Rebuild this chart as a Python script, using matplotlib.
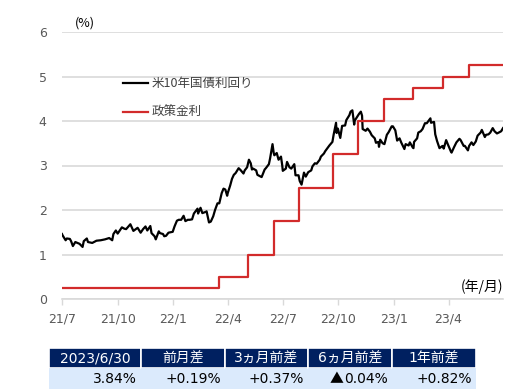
import matplotlib
matplotlib.use("Agg")
import matplotlib.pyplot as plt
from matplotlib.patches import Rectangle
import pandas as pd

plt.rcParams['font.family'] = ['Noto Sans CJK JP', 'DejaVu Sans']

# US 10-year treasury yield (%)
yield_dates = [
    "2021-07-01", "2021-07-02", "2021-07-07", "2021-07-09", "2021-07-14", "2021-07-16", "2021-07-19",
    "2021-07-23", "2021-07-30", "2021-08-04", "2021-08-06", "2021-08-11", "2021-08-13", "2021-08-20",
    "2021-08-27", "2021-09-03", "2021-09-10", "2021-09-17", "2021-09-22", "2021-09-24", "2021-09-28",
    "2021-10-01", "2021-10-08", "2021-10-12", "2021-10-15", "2021-10-20", "2021-10-22", "2021-10-27",
    "2021-10-29", "2021-11-03", "2021-11-08", "2021-11-12", "2021-11-16", "2021-11-19", "2021-11-24",
    "2021-11-26", "2021-12-01", "2021-12-03", "2021-12-08", "2021-12-10", "2021-12-15", "2021-12-17",
    "2021-12-20", "2021-12-24", "2021-12-31",
    "2022-01-03", "2022-01-07", "2022-01-10", "2022-01-14", "2022-01-18", "2022-01-21", "2022-01-25",
    "2022-01-28", "2022-02-01", "2022-02-04", "2022-02-10", "2022-02-11", "2022-02-15", "2022-02-18",
    "2022-02-24", "2022-02-25", "2022-03-01", "2022-03-04", "2022-03-08", "2022-03-11", "2022-03-15",
    "2022-03-18", "2022-03-22", "2022-03-25", "2022-03-28", "2022-03-31", "2022-04-01", "2022-04-05",
    "2022-04-08", "2022-04-11", "2022-04-14", "2022-04-19", "2022-04-22", "2022-04-27", "2022-04-29",
    "2022-05-03", "2022-05-06", "2022-05-09", "2022-05-11", "2022-05-13", "2022-05-18", "2022-05-20",
    "2022-05-24", "2022-05-27", "2022-06-01", "2022-06-03", "2022-06-08", "2022-06-10", "2022-06-14",
    "2022-06-16", "2022-06-17", "2022-06-21", "2022-06-24", "2022-06-28", "2022-06-30", "2022-07-01",
    "2022-07-06", "2022-07-08", "2022-07-12", "2022-07-15", "2022-07-20", "2022-07-22", "2022-07-27",
    "2022-07-29", "2022-08-01", "2022-08-05", "2022-08-08", "2022-08-12", "2022-08-17", "2022-08-19",
    "2022-08-23", "2022-08-26", "2022-08-31", "2022-09-02", "2022-09-07", "2022-09-09", "2022-09-14",
    "2022-09-16", "2022-09-21", "2022-09-23", "2022-09-27", "2022-09-28", "2022-09-30", "2022-10-04",
    "2022-10-07", "2022-10-12", "2022-10-14", "2022-10-19", "2022-10-21", "2022-10-24", "2022-10-27",
    "2022-10-28", "2022-11-03", "2022-11-04", "2022-11-07", "2022-11-09", "2022-11-10", "2022-11-15",
    "2022-11-18", "2022-11-22", "2022-11-25", "2022-11-30", "2022-12-02", "2022-12-06", "2022-12-07",
    "2022-12-09", "2022-12-13", "2022-12-16", "2022-12-20", "2022-12-23", "2022-12-28", "2022-12-30",
    "2023-01-03", "2023-01-06", "2023-01-10", "2023-01-13", "2023-01-18", "2023-01-20", "2023-01-25",
    "2023-01-27", "2023-02-01", "2023-02-02", "2023-02-03", "2023-02-08", "2023-02-10", "2023-02-14",
    "2023-02-17", "2023-02-21", "2023-02-24", "2023-03-02", "2023-03-03", "2023-03-08", "2023-03-10",
    "2023-03-13", "2023-03-17", "2023-03-22", "2023-03-24", "2023-03-28", "2023-03-31", "2023-04-05",
    "2023-04-06", "2023-04-10", "2023-04-14", "2023-04-19", "2023-04-21", "2023-04-26", "2023-04-28",
    "2023-05-03", "2023-05-05", "2023-05-09", "2023-05-12", "2023-05-16", "2023-05-19", "2023-05-24",
    "2023-05-26", "2023-05-31", "2023-06-02", "2023-06-06", "2023-06-09", "2023-06-13", "2023-06-16",
    "2023-06-20", "2023-06-23", "2023-06-27", "2023-06-30",
]
yield_values = [
    1.46, 1.43, 1.32, 1.36, 1.35, 1.30, 1.19,
    1.28, 1.24, 1.17, 1.30, 1.36, 1.28, 1.26,
    1.31, 1.32, 1.34, 1.37, 1.32, 1.46, 1.54,
    1.47, 1.61, 1.58, 1.57, 1.65, 1.68, 1.53,
    1.55, 1.60, 1.49, 1.57, 1.63, 1.54, 1.64,
    1.48, 1.41, 1.34, 1.52, 1.48, 1.46, 1.41,
    1.42, 1.49, 1.51,
    1.63, 1.76, 1.78, 1.78, 1.87, 1.75, 1.78,
    1.78, 1.79, 1.92, 2.03, 1.92, 2.05, 1.93,
    1.96, 1.97, 1.72, 1.74, 1.86, 2.00, 2.15,
    2.15, 2.38, 2.48, 2.46, 2.32, 2.38, 2.55,
    2.70, 2.79, 2.83, 2.94, 2.90, 2.82, 2.89,
    2.96, 3.13, 3.05, 2.91, 2.93, 2.89, 2.79,
    2.76, 2.74, 2.91, 2.94, 3.03, 3.16, 3.48,
    3.28, 3.23, 3.28, 3.13, 3.20, 3.01, 2.88,
    2.93, 3.08, 2.96, 2.93, 3.03, 2.78, 2.78,
    2.65, 2.57, 2.84, 2.75, 2.85, 2.89, 2.98,
    3.05, 3.04, 3.13, 3.20, 3.27, 3.32, 3.41,
    3.45, 3.53, 3.69, 3.96, 3.73, 3.83, 3.62,
    3.89, 3.90, 4.02, 4.13, 4.21, 4.24, 3.92,
    4.01, 4.14, 4.16, 4.21, 4.12, 3.82, 3.78,
    3.83, 3.76, 3.68, 3.61, 3.51, 3.53, 3.42,
    3.58, 3.50, 3.48, 3.69, 3.75, 3.88, 3.88,
    3.79, 3.56, 3.61, 3.51, 3.37, 3.48, 3.45,
    3.52, 3.40, 3.39, 3.53, 3.61, 3.74, 3.77,
    3.82, 3.95, 3.95, 4.06, 3.96, 3.98, 3.70,
    3.55, 3.39, 3.44, 3.38, 3.57, 3.47, 3.31,
    3.29, 3.41, 3.52, 3.60, 3.57, 3.44, 3.44,
    3.34, 3.44, 3.52, 3.46, 3.54, 3.67, 3.74,
    3.80, 3.64, 3.69, 3.70, 3.74, 3.84, 3.77,
    3.72, 3.74, 3.77, 3.84,
]

# Fed policy rate (upper bound, %)
policy_dates = ["2021-07-01", "2022-03-17", "2022-05-05", "2022-06-16", "2022-07-28", "2022-09-22",
                "2022-11-03", "2022-12-15", "2023-02-02", "2023-03-23", "2023-05-04", "2023-06-30"]
policy_values = [0.25, 0.50, 1.00, 1.75, 2.50, 3.25, 4.00, 4.50, 4.75, 5.00, 5.25, 5.25]

tick_dates = ["2021-07-01", "2021-10-01", "2022-01-01", "2022-04-01", "2022-07-01",
              "2022-10-01", "2023-01-01", "2023-04-01"]
tick_labels = ["21/7", "21/10", "22/1", "22/4", "22/7", "22/10", "23/1", "23/4"]

table_header = ["2023/6/30", "前月差", "3ヵ月前差", "6ヵ月前差", "1年前差"]
table_values = ["3.84%", "+0.19%", "+0.37%", "▲0.04%", "+0.82%"]

W, H = 529, 390
fig = plt.figure(figsize=(W / 100, H / 100), dpi=100)
ax = fig.add_axes([62 / W, 1 - 299 / H, (503 - 62) / W, (299 - 32) / H])

ax.plot(pd.to_datetime(yield_dates), yield_values, color="black", lw=1.6,
        label="米10年国債利回り", zorder=3)
ax.step(pd.to_datetime(policy_dates), policy_values, where="post", color="#d22b2b",
        lw=1.6, label="政策金利", zorder=3)

ax.set_xlim(pd.Timestamp("2021-07-01"), pd.Timestamp("2023-06-30"))
ax.set_ylim(0, 6)
ax.set_yticks(range(0, 7))
ax.set_xticks(pd.to_datetime(tick_dates))
ax.set_xticklabels(tick_labels)
for s in ["top", "right", "left"]:
    ax.spines[s].set_visible(False)
ax.spines["bottom"].set_color("#d9d9d9")
ax.spines["bottom"].set_linewidth(1.2)
ax.grid(axis="y", color="#d9d9d9", lw=1.2)
ax.set_axisbelow(True)
ax.tick_params(axis="x", length=4.5, color="#d9d9d9", width=1, pad=5,
               labelsize=9, labelcolor="#595959", labelfontfamily="DejaVu Sans")
ax.tick_params(axis="y", length=0, pad=11, labelsize=9, labelcolor="#595959",
               labelfontfamily="DejaVu Sans")

ax.legend(loc="upper left", bbox_to_anchor=((123 - 62) / 441, (299 - 77) / 267),
          frameon=False, fontsize=9, handlelength=2.0, handletextpad=0.3,
          labelspacing=1.3, borderpad=0, borderaxespad=0, labelcolor="#404040")

fig.text(75 / W, 1 - 23 / H, "(%)", fontsize=9, va="center", ha="left", color="black")
fig.text(503 / W, 1 - 287 / H, "(年/月)", fontsize=10, va="center", ha="right", color="black")

# summary table
tax = fig.add_axes([0, 0, 1, 1])
tax.set_xlim(0, W)
tax.set_ylim(H, 0)
tax.axis("off")
col_edges = [49, 141, 225, 308, 392, 476]
renderer = fig.canvas.get_renderer()
for i, (hd, val) in enumerate(zip(table_header, table_values)):
    x0, x1 = col_edges[i], col_edges[i + 1]
    tax.add_patch(Rectangle((x0, 348), x1 - x0, 20, facecolor="#002060",
                            edgecolor="white", lw=1.2))
    tax.add_patch(Rectangle((x0, 368), x1 - x0, 21, facecolor="#dbeafc", lw=0))
    tax.text((x0 + x1) / 2, 358.5, hd, color="white", fontsize=10, ha="center", va="center",
             family=["DejaVu Sans", "Noto Sans CJK JP"])
    sign = ""
    if val.startswith("▲"):
        sign, val = "▲", val[1:]
    t = tax.text(x1 - 4, 379, val, color="black", fontsize=10, ha="right", va="center",
                 family="DejaVu Sans")
    if sign:
        bb = t.get_window_extent(renderer)
        tax.text(bb.x0 - 0.5, 379, sign, color="black", fontsize=10, ha="right", va="center",
                 family="Noto Sans CJK JP")

fig.savefig("out.png", dpi=100)
